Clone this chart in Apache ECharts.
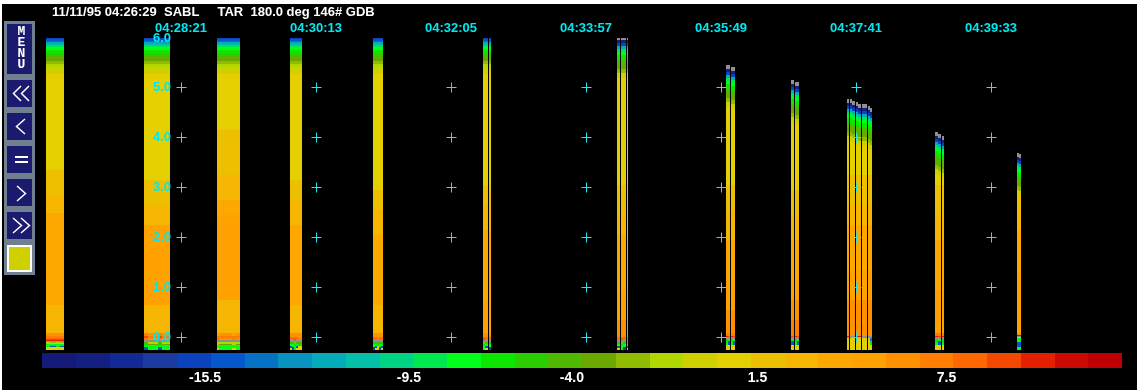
<!DOCTYPE html>
<html>
<head>
<meta charset="utf-8">
<title>SABL TAR</title>
<style>
html, body { margin: 0; padding: 0; background: #FFFFFF; }
#main { width: 1140px; height: 390px; }
</style>
<script src="https://cdn.jsdelivr.net/npm/echarts@6/dist/echarts.min.js"></script>
</head>
<body>
<div id="main"></div>
<script>
var header_text = '11/11/95 04:26:29  SABL     TAR  180.0 deg 146# GDB';

// seconds after 04:26:29 for each time tick
var time_ticks = [112, 224, 336, 448, 560, 672, 784];
var time_labels = ['04:28:21', '04:30:13', '04:32:05', '04:33:57', '04:35:49', '04:37:41', '04:39:33'];

// height ticks (km)
var height_ticks = [0, 1, 2, 3, 4, 5, 6];
var cross_heights = [0, 1, 2, 3, 4, 5];

// colour scale, one colour per cell, low to high
var scale_colors = ['#141a78', '#141f82', '#122996', '#1c3ba0', '#0a43bd', '#0458cc', '#0672c4', '#0892c0',
	'#03acb8', '#05c0a8', '#00d484', '#00e850', '#00ff1a', '#0ce600', '#2ccd00', '#50b800',
	'#6aa800', '#90bb00', '#b0d800', '#d0d000', '#e4cf00', '#ecc000', '#f5b500', '#fca800',
	'#ffa200', '#ff9000', '#ff7d00', '#ff6800', '#f24800', '#e42000', '#cc0a00', '#c00000'];
var scale_cells = [];
for (var c = 0; c < scale_colors.length; c++) {
	scale_cells.push(c);
}
var scale_tick_cells = [4.83, 10.87, 15.7, 21.2, 26.8];
var scale_tick_labels = ['-15.5', '-9.5', '-4.0', '1.5', '7.5'];

// no-echo colour, cell -1
var grey_color = '#909090';

// each beam: start second, end second, top height (km), grey cap (km), sweep number
var beam_start = [0, 81.3, 141.9, 202.4, 271.3, 362.5, 367.5, 473.7, 477, 482, 564.1, 568.3, 618, 621.4,
	664.5, 667, 668.7, 672, 673.7, 676.9, 681.9, 683.6, 737.5, 740, 743.3, 805.5, 807.2];
var beam_end = [14.9, 102.9, 160.9, 212.4, 279.6, 366.7, 369.2, 476.2, 481.2, 482.8, 567.5, 571.6, 620.6, 624.7,
	666.2, 668.7, 671.1, 673.7, 676.1, 681.1, 683.6, 685.3, 740, 742.5, 745, 807.2, 808.9];
var beam_top = [6, 6, 6, 6, 6, 6, 6, 6, 6, 6, 5.46, 5.42, 5.16, 5.12,
	4.78, 4.78, 4.74, 4.72, 4.68, 4.68, 4.64, 4.6, 4.12, 4.08, 4.04, 3.7, 3.67];
var beam_cap = [0, 0, 0, 0, 0, 0, 0, 0.04, 0.04, 0.04, 0.08, 0.08, 0.08, 0.08,
	0.08, 0.08, 0.08, 0.08, 0.08, 0.08, 0.08, 0.08, 0.08, 0.08, 0.08, 0.08, 0.08];
var beam_sweep = [0, 1, 2, 3, 4, 5, 5, 6, 6, 6, 7, 7, 8, 8, 9, 9, 9, 9, 9, 9, 9, 9, 10, 10, 10, 11, 11];

// colours under the beam top, depth (km) where each band ends
var open_top_depth = [0.03, 0.06, 0.09, 0.12, 0.14, 0.16, 0.18, 0.24, 0.30, 0.34, 0.40, 0.46, 0.52, 0.58, 0.72];
var open_top_cell = [4, 5, 6, 8, 9, 10, 11, 12, 13, 14, 15, 16, 17, 18, 19];
var capped_top_depth = [0.06, 0.12, 0.18, 0.24, 0.30, 0.40, 0.50, 0.58, 0.66, 0.76];
var capped_top_cell = [1, 4, 8, 11, 12, 13, 15, 16, 17, 19];

// middle of every sweep: height (km) where each band ends, cell of that band
var sweep_level_km = [
	[3.36, 2.85, 2.49, 0.65, 0.09],
	[3.16, 2.65, 2.25, 0.65, 0.09],
	[4.16, 3.26, 2.75, 2.45, 0.75, 0.09],
	[3.16, 2.75, 2.25, 0.65, 0.09],
	[2.95, 2.55, 2.05, 0.65, 0.09],
	[3.06, 2.65, 2.15, 0.75, 0.09],
	[3.06, 2.45, 2.05, 0.95, 0.35, 0.09],
	[3.06, 2.55, 1.95, 1.15, 0.55, 0.09],
	[2.95, 2.45, 1.95, 1.15, 0.75, 0.35, 0.09],
	[3.26, 2.65, 2.25, 1.35, 0.75, 0.09],
	[3.06, 2.45, 1.95, 0.95, 0.09],
	[2.95, 2.55, 2.15, 1.35, 0.09]
];
var sweep_level_cell = [
	[20, 21, 22, 23, 22],
	[20, 21, 22, 24, 22],
	[20, 21, 22, 23, 24, 22],
	[20, 21, 22, 23, 22],
	[20, 21, 22, 23, 22],
	[20, 21, 22, 23, 24],
	[20, 21, 22, 23, 24, 25],
	[20, 21, 22, 23, 24, 25],
	[20, 21, 22, 23, 24, 25, 26],
	[20, 21, 22, 23, 24, 25],
	[20, 21, 22, 23, 24],
	[20, 21, 22, 23, 24]
];

// ground clutter at the foot of the beams: top of each band (km) and its cell
var floor_km = [
	[0.09, 0.03, -0.01, -0.03, -0.05, -0.07, -0.09, -0.11, -0.13, -0.15, -0.17, -0.19],
	[0.09, 0.03, -0.01, -0.03, -0.05, -0.07, -0.09, -0.13, -0.17, -0.19],
	[0.09, 0.03, -0.01, -0.05, -0.09, -0.13, -0.15],
	[0.09, 0.03, -0.01, -0.03, -0.09, -0.13, -0.17, -0.19],
	[0.09, 0.03, -0.05, -0.09, -0.15, -0.21],
	[0.09, 0.01, -0.03, -0.05, -0.09, -0.13, -0.17],
	[0.09, 0.01, -0.03, -0.05, -0.09, -0.13, -0.17, -0.21],
	[0.09, 0.01, -0.05, -0.09, -0.13, -0.19],
	[0.09, -0.01, -0.05, -0.09, -0.13, -0.17],
	[0.09, 0.03, 0.01, -0.03, -0.11, -0.15],
	[0.09, 0.03, 0.01, -0.03, -0.07, -0.15],
	[0.09, 0.03, 0.01, -0.01],
	[0.09, 0.03, -0.01],
	[0.09, 0.03, -0.01, -0.07, -0.15],
	[0.09, 0.05, 0.03, 0.01, -0.01, -0.09, -0.19]
];
var floor_cell = [
	[25, 26, 27, 28, 29, -1, 17, 19, 12, 13, 5, 20],
	[25, 26, 27, 28, 29, -1, 18, 12, 13, 20],
	[25, 26, 25, -1, 18, 16, 12],
	[26, 28, 26, -1, 15, 13, 12, 5],
	[24, 26, -1, 18, 12, 20],
	[25, 27, 28, -1, 17, 13, 12],
	[25, 27, 26, -1, 15, 12, 5, 20],
	[25, 27, -1, 14, 12, 4],
	[25, 26, -1, 16, 13, 20],
	[26, 29, -1, 13, 12, 20],
	[26, 28, -1, 12, 5, 20],
	[25, 29, -1, 20],
	[25, -1, 20],
	[25, -1, 6, 13, 20],
	[25, 30, -1, 20, 12, 5, 12]
];
var floor_start = [0, 3.3, 8.3, 11.6, 81.3, 84.6, 86.3, 92.9, 96.2, 141.9, 143.5, 147.7, 154.3, 157.6,
	202.4, 204.1, 205.7, 207.4, 209, 271.3, 272.9, 274.6, 276.2, 277.9, 362.5, 364.2, 367.5,
	473.7, 477, 478.7, 482, 564.1, 565.8, 568.3, 570, 618, 621.4, 623,
	664.5, 667, 672, 676.9, 681.9, 683.6, 737.5, 740, 743.3, 805.5, 807.2];
var floor_end = [3.3, 8.3, 11.6, 14.9, 84.6, 86.3, 92.9, 96.2, 102.9, 143.5, 147.7, 154.3, 157.6, 160.9,
	204.1, 205.7, 207.4, 209, 212.4, 272.9, 274.6, 276.2, 277.9, 279.6, 364.2, 366.7, 369.2,
	476.2, 478.7, 481.2, 482.8, 565.8, 567.5, 570, 571.6, 620.6, 623, 624.7,
	666.2, 671.1, 676.1, 681.1, 683.6, 685.3, 740, 742.5, 745, 807.2, 808.9];
var floor_kind = [1, 0, 1, 0, 3, 2, 2, 3, 2, 4, 2, 2, 4, 2,
	6, 7, 5, 6, 8, 7, 6, 8, 7, 6, 5, 6, 7,
	6, 5, 7, 6, 9, 10, 9, 10, 10, 9, 10,
	11, 12, 11, 12, 12, 13, 9, 10, 9, 14, 14];

// build the colour rectangles: [start, end, high km, low km, cell]
var beam_rects = [];
for (var i = 0; i < beam_start.length; i++) {
	var top_km = beam_top[i] - beam_cap[i];
	if (beam_cap[i] > 0) {
		beam_rects.push([beam_start[i], beam_end[i], beam_top[i], top_km, -1]);
	}
	var depths = beam_cap[i] > 0 ? capped_top_depth : open_top_depth;
	var cells = beam_cap[i] > 0 ? capped_top_cell : open_top_cell;
	var high = top_km;
	for (var j = 0; j < depths.length; j++) {
		beam_rects.push([beam_start[i], beam_end[i], high, top_km - depths[j], cells[j]]);
		high = top_km - depths[j];
	}
	var levels = sweep_level_km[beam_sweep[i]];
	var level_cells = sweep_level_cell[beam_sweep[i]];
	for (var k = 0; k < levels.length; k++) {
		if (levels[k] < high) {
			beam_rects.push([beam_start[i], beam_end[i], high, levels[k], level_cells[k]]);
			high = levels[k];
		}
	}
}
for (var f = 0; f < floor_start.length; f++) {
	var bands = floor_km[floor_kind[f]];
	var band_cells = floor_cell[floor_kind[f]];
	for (var b = 0; b < bands.length; b++) {
		var low = b + 1 < bands.length ? bands[b + 1] : -0.25;
		beam_rects.push([floor_start[f], floor_end[f], bands[b], low, band_cells[b]]);
	}
}

// plus marks on the time / height grid
var cross_data = [];
for (var t = 0; t < time_ticks.length; t++) {
	for (var h = 0; h < cross_heights.length; h++) {
		cross_data.push([time_ticks[t], cross_heights[h]]);
	}
}

var scale_data = scale_cells.map(function(cell) {
	return [cell, cell];
});

function renderBeam(params, api) {
	var p1 = api.coord([api.value(0), api.value(2)]);
	var p2 = api.coord([api.value(1), api.value(3)]);
	var x = Math.round(p1[0]);
	var y = Math.round(p1[1]);
	var cell = api.value(4);
	return {
		type: 'rect',
		shape: { x: x, y: y, width: Math.round(p2[0]) - x, height: Math.round(p2[1]) - y },
		style: { fill: cell < 0 ? grey_color : scale_colors[cell] }
	};
}

function renderCross(params, api) {
	var p = api.coord([api.value(0), api.value(1)]);
	var x = Math.round(p[0]) + 0.5;
	var y = Math.floor(p[1]) + 0.5;
	var line = { stroke: '#22e6f0', lineWidth: 1 };
	return {
		type: 'group',
		children: [
			{ type: 'line', shape: { x1: x - 5, y1: y, x2: x + 5, y2: y }, style: line },
			{ type: 'line', shape: { x1: x, y1: y - 5, x2: x, y2: y + 5 }, style: line }
		]
	};
}

function renderScale(params, api) {
	var p1 = api.coord([api.value(0), 1]);
	var p2 = api.coord([api.value(0) + 1, 0]);
	var x = Math.round(p1[0]);
	return {
		type: 'rect',
		shape: { x: x, y: p1[1], width: Math.round(p2[0]) - x, height: p2[1] - p1[1] },
		style: { fill: scale_colors[api.value(1)] }
	};
}

function chevron(points) {
	return {
		type: 'polyline',
		shape: { points: points },
		style: { stroke: '#FFFFFF', fill: null, lineWidth: 1.5 }
	};
}

function panelRect(x, y, w, h, fill) {
	return { type: 'rect', shape: { x: x, y: y, width: w, height: h }, style: { fill: fill } };
}

var panel_elements = [
	{ type: 'rect', z: -100, shape: { x: 2, y: 4, width: 1135, height: 386 }, style: { fill: '#000000' } },
	panelRect(4, 21, 31, 254, '#708090'),
	panelRect(7, 24, 25, 50, '#1a1a6e'),
	panelRect(7, 80, 25, 27, '#1a1a6e'),
	panelRect(7, 113, 25, 27, '#1a1a6e'),
	panelRect(7, 146, 25, 27, '#1a1a6e'),
	panelRect(7, 179, 25, 27, '#1a1a6e'),
	panelRect(7, 212, 25, 27, '#1a1a6e'),
	panelRect(7, 245, 25, 27, '#FFFFFF'),
	panelRect(9, 247, 21, 23, '#d0d000'),
	panelRect(15, 156, 13, 2, '#FFFFFF'),
	panelRect(15, 161, 13, 2, '#FFFFFF'),
	chevron([[21, 86], [13.5, 93.5], [21, 101]]),
	chevron([[29, 86], [21.5, 93.5], [29, 101]]),
	chevron([[25, 119], [16.5, 126.5], [25, 134]]),
	chevron([[17, 186], [25.5, 193.5], [17, 201]]),
	chevron([[13, 218], [21.5, 225.5], [13, 233]]),
	chevron([[21, 218], [29.5, 225.5], [21, 233]]),
	{
		type: 'text',
		x: 21.5,
		y: 26,
		style: {
			text: 'M\nE\nN\nU',
			fill: '#FFFFFF',
			font: 'bold 13px "Liberation Mono"',
			lineHeight: 11,
			textAlign: 'center'
		}
	}
];

var option = {
	animation: false,
	backgroundColor: '#FFFFFF',
	title: {
		text: header_text,
		left: 52,
		top: 6,
		padding: 0,
		textStyle: { color: '#FFFFFF', fontFamily: 'Liberation Sans', fontWeight: 'bold', fontSize: 13 }
	},
	graphic: { elements: panel_elements },
	grid: [
		{ left: 46, top: 38, width: 1080, height: 312 },
		{ left: 42, top: 353, width: 1080, height: 15 }
	],
	xAxis: [{
		type: 'value',
		position: 'top',
		min: 0,
		max: 896,
		z: 10,
		splitLine: { show: false },
		axisLine: { show: false },
		axisTick: { show: false },
		axisLabel: {
			customValues: time_ticks,
			margin: 3,
			color: '#00e8f0',
			fontFamily: 'Liberation Sans',
			fontWeight: 'bold',
			fontSize: 13,
			formatter: function(value) {
				return time_labels[time_ticks.indexOf(value)];
			}
		}
	}, {
		type: 'value',
		gridIndex: 1,
		min: 0,
		max: 32,
		splitLine: { show: false },
		axisLine: { show: false },
		axisTick: { show: false },
		axisLabel: {
			customValues: scale_tick_cells,
			margin: 3,
			color: '#FFFFFF',
			fontFamily: 'Liberation Sans',
			fontWeight: 'bold',
			fontSize: 14,
			formatter: function(value) {
				return scale_tick_labels[scale_tick_cells.indexOf(value)];
			}
		}
	}],
	yAxis: [{
		type: 'value',
		min: -0.25,
		max: 6,
		offset: -126,
		z: 10,
		splitLine: { show: false },
		axisLine: { show: false },
		axisTick: { show: false },
		axisLabel: {
			customValues: height_ticks,
			margin: 1,
			padding: [6, 0, 0, 0],
			color: '#00e8f0',
			fontFamily: 'Liberation Sans',
			fontWeight: 'bold',
			fontSize: 13,
			formatter: function(value) {
				return value.toFixed(1);
			}
		}
	}, {
		type: 'value',
		gridIndex: 1,
		min: 0,
		max: 1,
		show: false
	}],
	series: [{
		type: 'custom',
		name: 'beams',
		coordinateSystem: 'cartesian2d',
		renderItem: renderBeam,
		data: beam_rects,
		clip: false,
		z: 2
	}, {
		type: 'custom',
		name: 'crosses',
		coordinateSystem: 'cartesian2d',
		renderItem: renderCross,
		data: cross_data,
		clip: false,
		z: 3
	}, {
		type: 'custom',
		name: 'scale',
		coordinateSystem: 'cartesian2d',
		xAxisIndex: 1,
		yAxisIndex: 1,
		renderItem: renderScale,
		data: scale_data,
		clip: false,
		z: 2
	}]
};

var myChart = echarts.init(document.getElementById('main'), null, { renderer: 'canvas' });
myChart.setOption(option);
</script>
</body>
</html>
